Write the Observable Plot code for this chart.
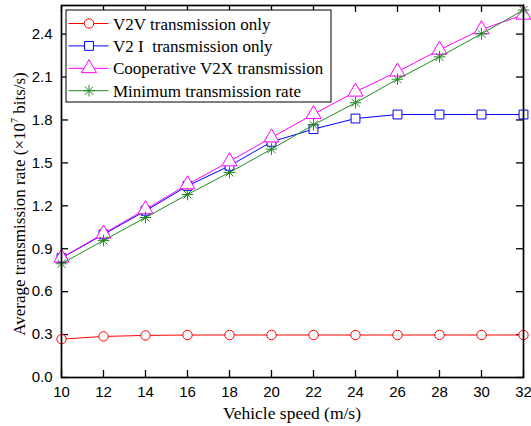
<!DOCTYPE html>
<html>
<head>
<meta charset="utf-8">
<script src="https://cdn.jsdelivr.net/npm/d3@7"></script>
<script src="https://cdn.jsdelivr.net/npm/@observablehq/plot@0.6"></script>
<style>
  html, body { margin: 0; padding: 0; background: white; }
</style>
</head>
<body>
<div id="chart"></div>
<script>
// ---- data ----
const speeds = [10, 12, 14, 16, 18, 20, 22, 24, 26, 28, 30, 32];
const v2vOnly = [0.268, 0.287, 0.294, 0.297, 0.297, 0.297, 0.297, 0.297, 0.297, 0.297, 0.297, 0.297];
const v2iOnly = [0.835, 1.0, 1.165, 1.339, 1.479, 1.647, 1.736, 1.81, 1.838, 1.838, 1.838, 1.838];
const cooperative = [0.837, 1.005, 1.175, 1.349, 1.51, 1.677, 1.84, 1.997, 2.137, 2.29, 2.433, 2.535];
const minimumRate = [0.795, 0.958, 1.118, 1.279, 1.433, 1.596, 1.766, 1.92, 2.085, 2.241, 2.402, 2.568];
const seriesNames = ["V2V transmission only", "V2 I  transmission only", "Cooperative V2X transmission", "Minimum transmission rate"];
const xTicks = [10, 12, 14, 16, 18, 20, 22, 24, 26, 28, 30, 32];
const yTicks = [0.0, 0.3, 0.6, 0.9, 1.2, 1.5, 1.8, 2.1, 2.4];
const xLabel = "Vehicle speed (m/s)";
const yLabelParts = ["Average transmission rate (×10", "7", " bits/s)"];

// ---- layout / style ----
const W = 531, H = 426;
const mL = 61, mR = 8, mT = 5, mB = 49;
const innerW = W - mL - mR, innerH = H - mT - mB;
const tickLen = 7;

const asterisk = {
  draw(ctx, size) {
    const r = Math.sqrt(size / Math.PI);
    const d = r * Math.SQRT1_2;
    ctx.moveTo(0, -r); ctx.lineTo(0, r);
    ctx.moveTo(-r, 0); ctx.lineTo(r, 0);
    ctx.moveTo(-d, -d); ctx.lineTo(d, d);
    ctx.moveTo(-d, d); ctx.lineTo(d, -d);
  }
};

const styles = [
  {color: "#ff0000", symbol: d3.symbolCircle, r: 4.7},
  {color: "#0000ff", symbol: d3.symbolSquare, r: 5.0},
  {color: "#ff00ff", symbol: d3.symbolTriangle, r: 5.6},
  {color: "#228b22", symbol: asterisk, r: 5.8}
];

const seriesValues = [v2vOnly, v2iOnly, cooperative, minimumRate];
const series = seriesValues.map((vals, k) =>
  speeds.map((s, i) => ({speed: s, value: vals[i], name: seriesNames[k]}))
);

const marks = [];
series.forEach((data, k) => {
  const st = styles[k];
  marks.push(Plot.line(data, {x: "speed", y: "value", stroke: st.color, strokeWidth: 1}));
  marks.push(Plot.dot(data, {x: "speed", y: "value", stroke: st.color, fill: k === 3 ? "none" : "white",
    symbol: st.symbol, r: st.r, strokeWidth: 1}));
});

const chart = Plot.plot({
  width: W, height: H,
  marginLeft: mL, marginRight: mR, marginTop: mT, marginBottom: mB,
  style: {fontFamily: "'Liberation Sans', Arial, sans-serif", fontSize: "15px", background: "white", color: "black"},
  x: {domain: [10, 32]},
  y: {domain: [0, 2.6]},
  marks: [
    // inward ticks (bottom, top, left, right)
    Plot.tickX(xTicks, {x: d => d, insetTop: innerH - tickLen, stroke: "black", strokeWidth: 1.3}),
    Plot.tickX(xTicks, {x: d => d, insetBottom: innerH - tickLen, stroke: "black", strokeWidth: 1.3}),
    Plot.tickY(yTicks, {y: d => d, insetRight: innerW - tickLen, stroke: "black", strokeWidth: 1.3}),
    Plot.tickY(yTicks, {y: d => d, insetLeft: innerW - tickLen, stroke: "black", strokeWidth: 1.3}),
    Plot.axisX({ticks: xTicks, tickSize: 0, tickPadding: 9, label: null, tickFormat: d3.format("d")}),
    Plot.axisY({ticks: yTicks, tickSize: 0, tickPadding: 9, label: null, tickFormat: d3.format(".1f")}),
    ...marks,
    Plot.frame({stroke: "black", strokeWidth: 1.7})
  ]
});

document.getElementById("chart").appendChild(chart);

// ---- axis titles (serif) ----
const svg = d3.select(chart);
const serif = "'Liberation Serif', 'Times New Roman', serif";
svg.append("text")
  .attr("x", mL + innerW / 2).attr("y", 419)
  .attr("text-anchor", "middle")
  .style("font-family", serif).style("font-size", "17.5px").attr("fill", "black")
  .text(xLabel);

const yl = svg.append("text")
  .attr("transform", "translate(24.5,204) rotate(-90)")
  .attr("text-anchor", "middle")
  .style("font-family", serif).style("font-size", "17px").attr("fill", "black");
yl.append("tspan").text(yLabelParts[0]);
yl.append("tspan").style("font-size", "10px").attr("dy", -7).text(yLabelParts[1]);
yl.append("tspan").attr("dy", 7).text(yLabelParts[2]);

// ---- legend ----
const lg = svg.append("g");
lg.append("rect").attr("x", 66).attr("y", 10).attr("width", 265).attr("height", 92)
  .attr("fill", "white").attr("stroke", "black").attr("stroke-width", 1);
seriesNames.forEach((name, k) => {
  const st = styles[k];
  const cy = 23.5 + k * 22.4;
  lg.append("line").attr("x1", 68.5).attr("x2", 108.5).attr("y1", cy).attr("y2", cy)
    .attr("stroke", st.color).attr("stroke-width", 1);
  lg.append("path").attr("transform", `translate(89,${cy})`)
    .attr("d", d3.symbol().type(st.symbol).size(st.r * st.r * Math.PI)())
    .attr("fill", k === 3 ? "none" : "white").attr("stroke", st.color).attr("stroke-width", 1);
  lg.append("text").attr("x", 113).attr("y", cy + 6)
    .attr("text-anchor", "start")
    .style("font-family", serif).style("font-size", "17px").attr("fill", "black")
    .style("white-space", "pre")
    .text(name);
});
</script>
</body>
</html>
